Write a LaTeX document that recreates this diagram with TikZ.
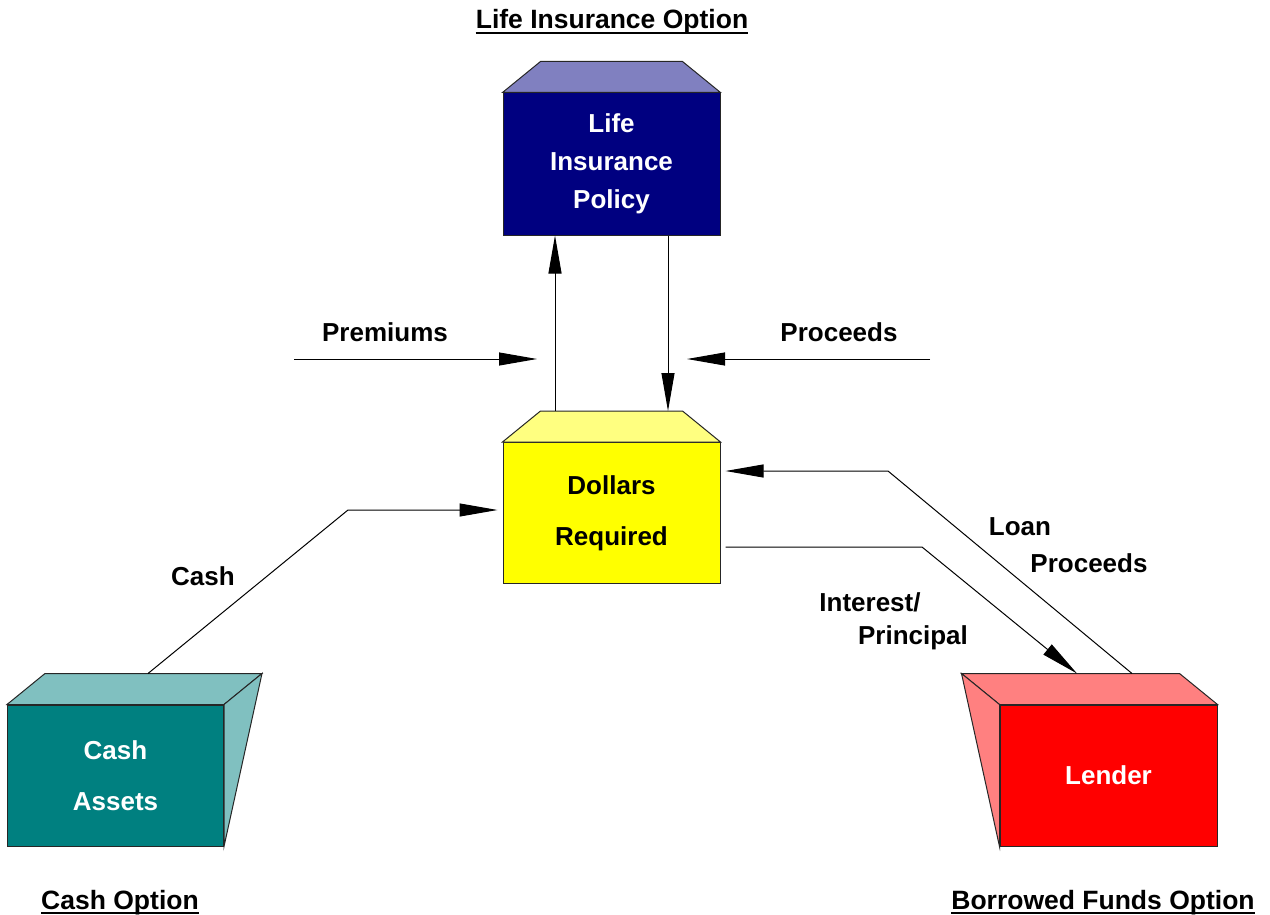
\documentclass[tikz,border=0pt]{standalone}
\usepackage{fontspec}
\setmainfont{Liberation Sans}
\usetikzlibrary{arrows.meta,calc}
\definecolor{navyc}{HTML}{000080}
\definecolor{lavc}{HTML}{8080C0}
\definecolor{yelc}{HTML}{FFFF00}
\definecolor{lyelc}{HTML}{FFFF80}
\definecolor{tealc}{HTML}{008080}
\definecolor{lteal}{HTML}{80C0C0}
\definecolor{redc}{HTML}{FF0000}
\definecolor{pinkc}{HTML}{FF8080}
\tikzset{
  boxfront/.style={draw=black!85, line width=1pt, minimum width=217pt, inner sep=0pt, align=center,
    font=\fontsize{26}{38}\selectfont\bfseries},
  face/.style={draw=black!85, line width=1pt, line join=miter},
  conn/.style={draw=black, line width=1pt},
  arr/.style={conn, -{Triangle[length=38pt,width=13pt]}},
  lbl/.style={font=\fontsize{26}{37}\selectfont\bfseries, align=center, inner sep=0pt},
  ttl/.style={font=\fontsize{26.5}{30}\selectfont\bfseries, inner sep=0pt, anchor=base}
}
\begin{document}
\begin{tikzpicture}[x=1pt,y=-1pt]
\useasboundingbox (0,0) rectangle (1270,915);

% Life insurance policy
\node[boxfront, fill=navyc, text=white, minimum height=142pt] (policy) at (611.5,164) {Life\\Insurance\\Policy};
\draw[face, fill=lavc] (policy.north west) -- ++(38,-31) coordinate (ptl) -- ([shift={(-38,-31)}]policy.north east) -- (policy.north east) -- cycle;

% Dollars required
\node[boxfront, fill=yelc, text=black, minimum height=141pt, font=\fontsize{26}{51}\selectfont\bfseries] (dollars) at (611.5,513) {Dollars\\Required};
\draw[face, fill=lyelc] (dollars.north west) -- ++(38,-31) coordinate (dtl) -- ([shift={(-38,-31)}]dollars.north east) -- (dollars.north east) -- cycle;

% Cash assets
\node[boxfront, fill=tealc, text=white, minimum width=216pt, minimum height=141pt, font=\fontsize{26}{51}\selectfont\bfseries] (cash) at (115.5,775.5) {Cash\\Assets};
\draw[face, fill=lteal] (cash.north west) -- ++(38,-31) coordinate (ctl) -- ([shift={(38,-31)}]cash.north east) coordinate (ctr) -- (cash.north east) -- cycle;
\draw[face, fill=lteal] (cash.north east) -- (ctr) -- (cash.south east) -- cycle;

% Lender
\node[boxfront, fill=redc, text=white, minimum height=141pt] (lender) at (1108.5,775.5) {Lender};
\draw[face, fill=pinkc] (lender.north west) -- ++(-38,-31) coordinate (ltl) -- ([shift={(-38,-31)}]lender.north east) -- (lender.north east) -- cycle;
\draw[face, fill=pinkc] (lender.north west) -- (ltl) -- (lender.south west) -- cycle;

% Connectors
\draw[arr] (555,0 |- dtl) -- (555,0 |- policy.south);
\draw[arr] (668,0 |- policy.south) -- (668,0 |- dtl);

\coordinate (premA) at (294,359);
\coordinate (premB) at (537,359);
\draw[arr] (premA) -- (premB);
\coordinate (procA) at (930,359);
\coordinate (procB) at (687,359);
\draw[arr] (procA) -- (procB);

\coordinate (cashbend) at (348,510);
\draw[arr] (148,0 |- ctl) -- (cashbend) -- ($(dollars.west |- cashbend)+(-5,0)$);

\coordinate (loanbend) at (888,471);
\draw[arr] (1132,0 |- ltl) -- (loanbend) -- ($(dollars.east |- loanbend)+(5,0)$);

\coordinate (intbend) at (922,547);
\draw[arr] ($(dollars.east |- intbend)+(5,0)$) -- (intbend) -- (1077,0 |- ltl);

% Labels
\node[lbl] (lprem) at (385,332) {Premiums};
\node[lbl] (lproc) at (839,332) {Proceeds};
\node[lbl] (lcash) at (203,576) {Cash};
\node[lbl] (lloan1) at (1020,527) {Loan};
\node[lbl] (lloan2) at (1089,563) {Proceeds};
\node[lbl] (lint1) at (870,602) {Interest/};
\node[lbl] (lint2) at (913,638) {Principal};

% Titles
\node[ttl] (tlife) at (612,29) {Life Insurance Option};
\draw[line width=2pt] ([yshift=-4pt]tlife.base west) -- ([yshift=-4pt]tlife.base east);
\node[ttl] (tcash) at (120,909) {Cash Option};
\draw[line width=2pt] ([yshift=-4pt]tcash.base west) -- ([yshift=-4pt]tcash.base east);
\node[ttl] (tborr) at (1103,909) {Borrowed Funds Option};
\draw[line width=2pt] ([yshift=-4pt]tborr.base west) -- ([yshift=-4pt]tborr.base east);
\end{tikzpicture}
\end{document}
